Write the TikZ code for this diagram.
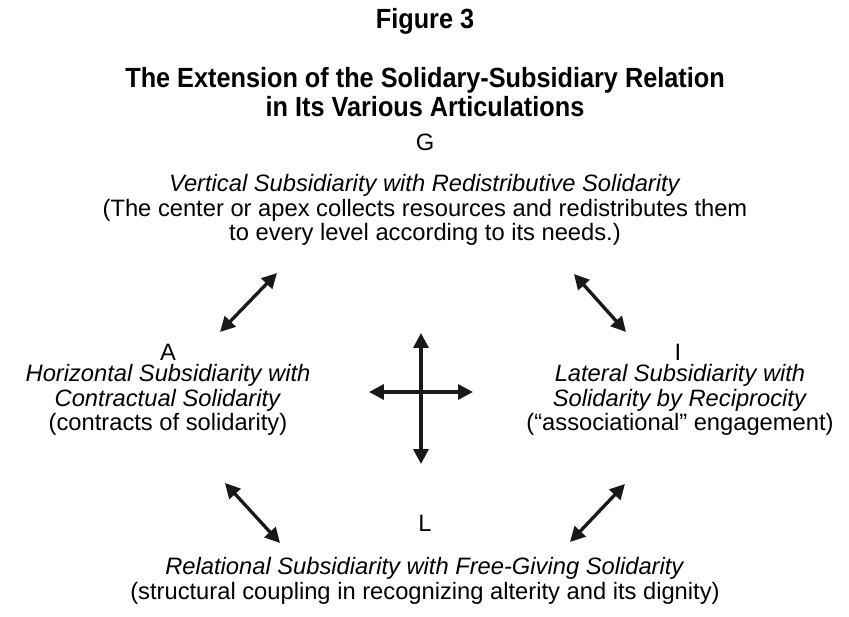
\documentclass[tikz,border=0pt]{standalone}
\usepackage{fontspec}
\setmainfont{Liberation Sans}
\newfontfamily\narrowbold[FakeStretch=0.91]{Liberation Sans Bold}
\usetikzlibrary{arrows.meta}

\begin{document}
\begin{tikzpicture}[
    x=0.02cm, y=-0.02cm,
    txt/.style={align=center, inner sep=0pt, font=\fontsize{13.5}{13.9}\selectfont},
    ttl/.style={align=center, inner sep=0pt, font=\fontsize{15.8}{16.4}\narrowbold},
    link/.style={{Triangle[length=8.5pt,width=8.5pt]}-{Triangle[length=8.5pt,width=8.5pt]}, line width=1.9pt, black!90}
]
\useasboundingbox (0,0) rectangle (849,616);
\node[ttl] (fig) at (425,21) {Figure 3};
\node[ttl] (title) at (425,92) {The Extension of the Solidary-Subsidiary Relation\\in Its Various Articulations};
% the four articulations
\node[txt] (g) at (425,142) {G};
\node[txt] (gtext) at (425,210) {\textit{Vertical Subsidiarity with Redistributive Solidarity}\\(The center or apex collects resources and redistributes them\\to every level according to its needs.)};
\node[txt] (a) at (168,352) {A};
\node[txt] (atext) at (168,400) {\textit{Horizontal Subsidiarity with}\\\textit{Contractual Solidarity}\\(contracts of solidarity)};
\node[txt] (i) at (678,352) {I};
\node[txt] (itext) at (680,400) {\textit{Lateral Subsidiarity with}\\\textit{Solidarity by Reciprocity}\\(“associational” engagement)};
\node[txt] (l) at (425,523) {L};
\node[txt] (ltext) at (425,581) {\textit{Relational Subsidiarity with Free-Giving Solidarity}\\(structural coupling in recognizing alterity and its dignity)};
% arrow ends
\coordinate (ga1) at (277,273);
\coordinate (ga2) at (220,332);
\coordinate (gi1) at (574,274);
\coordinate (gi2) at (626,332);
\coordinate (al1) at (225,483);
\coordinate (al2) at (280,543);
\coordinate (il1) at (625,484);
\coordinate (il2) at (570,542);
\coordinate (up) at (421,333);
\coordinate (down) at (421,464);
\coordinate (left) at (369,392);
\coordinate (right) at (473,392);
\draw[link] (ga1) -- (ga2);
\draw[link] (gi1) -- (gi2);
\draw[link] (al1) -- (al2);
\draw[link] (il1) -- (il2);
\draw[link] (up) -- (down);
\draw[link] (left) -- (right);
\end{tikzpicture}
\end{document}
